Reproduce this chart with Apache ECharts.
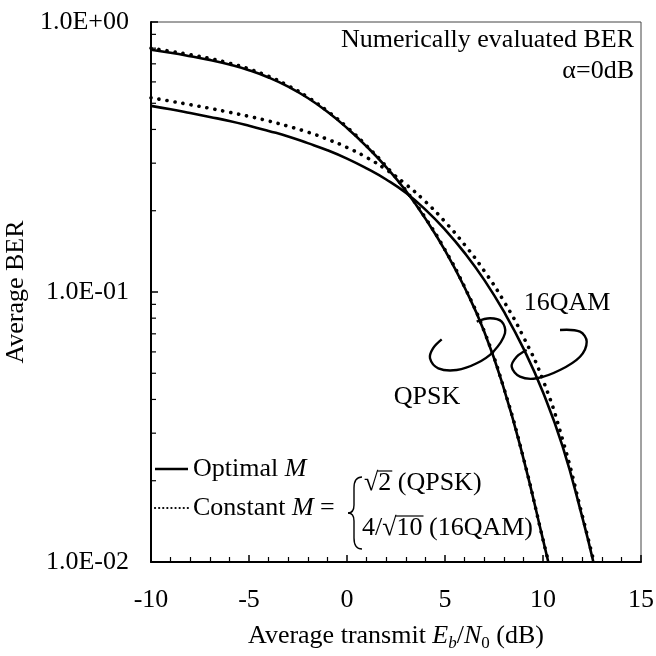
<!DOCTYPE html>
<html><head><meta charset="utf-8">
<script src="https://cdn.jsdelivr.net/npm/echarts@6/dist/echarts.min.js"></script>
<style>html,body{margin:0;padding:0;background:#fff}#c{width:656px;height:656px}</style>
</head><body><div id="c"></div>
<script>
// ---- data ----
const xQpskOpt   = [-10,-9,-8,-7,-6,-5,-4,-3,-2,-1,0,1,2,3,4,5,6,7,8,9,10,10.27];
const qpskOpt    = [0.789,0.769,0.747,0.724,0.696,0.663,0.623,0.576,0.523,0.465,0.405,0.346,0.290,0.237,0.187,0.1427,0.1039,0.0714,0.0440,0.0242,0.0121,0.01];
const xQpskConst = [-10,-9,-8,-7,-6,-5,-4,-3,-2,-1,0,1,2,3,4,5,6,7,8,9,10,10.28];
const qpskConst  = [0.80,0.779,0.757,0.733,0.704,0.670,0.629,0.581,0.527,0.468,0.408,0.348,0.292,0.238,0.188,0.1433,0.1043,0.0716,0.0441,0.0243,0.0121,0.01];
const x16Opt     = [-10,-9,-8,-7,-6,-5,-4,-3,-2,-1,0,1,2,3,4,5,6,7,8,9,10,11,12,12.57];
const qam16Opt   = [0.489,0.475,0.460,0.445,0.430,0.413,0.395,0.377,0.356,0.335,0.312,0.287,0.261,0.233,0.2018,0.1702,0.1396,0.1109,0.0847,0.0618,0.0425,0.0268,0.0147,0.01];
const x16Const   = [-10,-9,-8,-7,-6,-5,-4,-3,-2,-1,0,1,2,3,4,5,6,7,8,9,10,11,12,12.6];
const qam16Const = [0.524,0.509,0.494,0.479,0.463,0.447,0.430,0.411,0.391,0.368,0.343,0.315,0.284,0.2506,0.2163,0.182,0.1496,0.1197,0.0925,0.0682,0.0472,0.0284,0.0149,0.01];

const xRange = [-10, 15];
const yTickValues = [0.01, 0.1, 1];
const yTickLabels = ['1.0E-02', '1.0E-01', '1.0E+00'];
const yMinorTicks = [0.02,0.03,0.04,0.05,0.06,0.07,0.08,0.09,0.2,0.3,0.4,0.5,0.6,0.7,0.8,0.9];

const FONT = 'Liberation Serif';
const FS = 26;
const chart = echarts.init(document.getElementById('c'), null, {renderer: 'canvas'});
const pairs = (xs, ys) => xs.map((x, i) => [x, ys[i]]);

const solid = {color: '#000', width: 2.6, type: 'solid'};
const dotted = {color: '#000', width: 3.6, type: [0.1, 8], cap: 'round'};

function yLabel(v) {
  for (let i = 0; i < yTickValues.length; i++) {
    if (Math.abs(Math.log10(v) - Math.log10(yTickValues[i])) < 1e-6) return yTickLabels[i];
  }
  return '';
}

const mctx = document.createElement('canvas').getContext('2d');
function tw(t, size, style) { mctx.font = (style || '') + ' ' + size + 'px "' + FONT + '"'; return mctx.measureText(t).width; }

const txt = (x, y, text, extra) => ({
  type: 'text', x: x, y: y, silent: true, z: 10,
  style: Object.assign({text: text, fill: '#000', fontFamily: FONT, fontSize: FS, align: 'left', verticalAlign: 'middle',
    rich: {i: {fontStyle: 'italic', fontFamily: FONT, fontSize: FS, fill: '#000'}}}, extra || {})
});
const seg = (x1, y1, x2, y2, w) => ({type: 'line', silent: true, z: 10, shape: {x1: x1, y1: y1, x2: x2, y2: y2}, style: {stroke: '#000', lineWidth: w || 1.4}});
const qb = (x1, y1, cx, cy, x2, y2) => ({type: 'bezierCurve', silent: true, z: 10, shape: {x1: x1, y1: y1, cpx1: cx, cpy1: cy, x2: x2, y2: y2}, style: {stroke: '#000', lineWidth: 1.4, fill: null}});

// legend layout
const legX = 155, legW = 33, optY = 469, conY = 508;
const bx = 354, r1Y = 483, r2Y = 528;
const r1X = 364, r2X = 362;
const sqW = tw('\u221A', FS);
const w4s = tw('4/', FS);
const overTop = -12;
const graphics = [
  seg(legX, optY, legX + legW, optY, 2.6),
  txt(legX + legW + 5, optY, 'Optimal {i|M}'),
  {type: 'line', silent: true, shape: {x1: legX, y1: conY, x2: legX + legW, y2: conY}, style: {stroke: '#000', lineWidth: 2.2, lineDash: [0.1, 4], lineCap: 'round'}},
  txt(legX + legW + 5, conY, 'Constant {i|M} ='),
  qb(bx + 8, 477, bx, 477, bx, 488),
  seg(bx, 488, bx, 505),
  qb(bx, 505, bx, 513, bx - 6, 513),
  qb(bx - 6, 513, bx, 513, bx, 521),
  seg(bx, 521, bx, 538),
  qb(bx, 538, bx, 549, bx + 8, 549),
  txt(r1X, r1Y, '\u221A2 (QPSK)'),
  seg(r1X + sqW - 1, r1Y + overTop, r1X + sqW + tw('2', FS) + 1, r1Y + overTop, 1.2),
  txt(r2X, r2Y, '4/\u221A10 (16QAM)'),
  seg(r2X + w4s + sqW - 1, r2Y + overTop, r2X + w4s + sqW + tw('10', FS) + 1, r2Y + overTop, 1.2),
  {type: 'text', x: 634, y: 24.5, silent: true, z: 10,
   style: {text: 'Numerically evaluated BER\n\u03B1=0dB', fill: '#000', fontFamily: FONT, fontSize: FS, align: 'right', verticalAlign: 'top', lineHeight: 31}},
  txt(427, 397, 'QPSK', {align: 'center'}),
  txt(567, 303, '16QAM', {align: 'center'}),
  {type: 'polyline', silent: true, shape: {smooth: 0.35, points: [[441.7,339.3],[433,348.3],[430,358.3],[438.3,368.3],[456.7,370],[476.7,363.3],[493.3,351.7],[505,333.3],[501.7,321.7],[490,318.3],[476.7,321.7]]},
   style: {stroke: '#000', lineWidth: 2.4, fill: null}},
  {type: 'polyline', silent: true, shape: {smooth: 0.35, points: [[560,330],[580,331.7],[586.7,341.7],[580,356.7],[560,370],[536.7,378.3],[520,376.7],[511.7,366.7],[516.7,356.7],[526.7,350]]},
   style: {stroke: '#000', lineWidth: 2.4, fill: null}}
];

const option = {
  animation: false,
  backgroundColor: '#fff',
  grid: {left: 151, right: 15, top: 22, bottom: 94, containLabel: false, outerBoundsMode: 'none',
         show: true, borderColor: '#444', borderWidth: 1, backgroundColor: 'transparent'},
  xAxis: {
    type: 'value', min: xRange[0], max: xRange[1], interval: 5,
    axisLine: {show: true, onZero: false, lineStyle: {color: '#000', width: 2}},
    axisTick: {show: true, inside: true, length: 7, lineStyle: {color: '#000', width: 1.5}},
    minorTick: {show: true, splitNumber: 5, length: 5, lineStyle: {color: '#000', width: 1.2}},
    splitLine: {show: false},
    axisLabel: {fontFamily: FONT, fontSize: FS, color: '#000', margin: 25},
    name: 'Average transmit {i|E}{s|b}{n|/}{i|N}{s0|0}{n| (dB)}',
    nameLocation: 'middle', nameGap: 58,
    nameTextStyle: {fontFamily: FONT, fontSize: FS, color: '#000', lineHeight: 32,
      rich: {
        i: {fontFamily: FONT, fontSize: FS, fontStyle: 'italic', color: '#000', lineHeight: 32},
        n: {fontFamily: FONT, fontSize: FS, color: '#000', lineHeight: 32},
        s: {fontFamily: FONT, fontSize: 17, fontStyle: 'italic', color: '#000', lineHeight: 17, verticalAlign: 'bottom'},
        s0: {fontFamily: FONT, fontSize: 17, color: '#000', lineHeight: 17, verticalAlign: 'bottom'}
      }}
  },
  yAxis: {
    type: 'log', logBase: 10, min: 0.01, max: 1,
    axisLine: {show: true, onZero: false, lineStyle: {color: '#000', width: 2}},
    axisTick: {show: true, inside: true, length: 7, lineStyle: {color: '#000', width: 1.5}},
    minorTick: {show: false},
    splitLine: {show: false},
    axisLabel: {fontFamily: FONT, fontSize: FS, color: '#000', margin: 22, formatter: yLabel},
    name: 'Average BER', nameLocation: 'middle', nameGap: 116, nameRotate: 90,
    nameTextStyle: {fontFamily: FONT, fontSize: FS, color: '#000'}
  },
  series: [
    {type: 'custom', silent: true, z: 5, data: yMinorTicks.map(v => [xRange[0], v]),
     renderItem: (params, api) => {
       const p = api.coord([api.value(0), api.value(1)]);
       return {type: 'line', shape: {x1: p[0], y1: p[1], x2: p[0] + 5, y2: p[1]}, style: {stroke: '#000', lineWidth: 1.2}};
     }},
    {name: 'QPSK optimal', type: 'line', data: pairs(xQpskOpt, qpskOpt), showSymbol: false, smooth: 0.5, lineStyle: solid, z: 3},
    {name: '16QAM optimal', type: 'line', data: pairs(x16Opt, qam16Opt), showSymbol: false, smooth: 0.5, lineStyle: solid, z: 3},
    {name: 'QPSK constant', type: 'line', data: pairs(xQpskConst, qpskConst), showSymbol: false, smooth: 0.5, lineStyle: dotted, z: 4},
    {name: '16QAM constant', type: 'line', data: pairs(x16Const, qam16Const), showSymbol: false, smooth: 0.5, lineStyle: dotted, z: 4}
  ],
  graphic: graphics
};
chart.setOption(option);
</script></body></html>
